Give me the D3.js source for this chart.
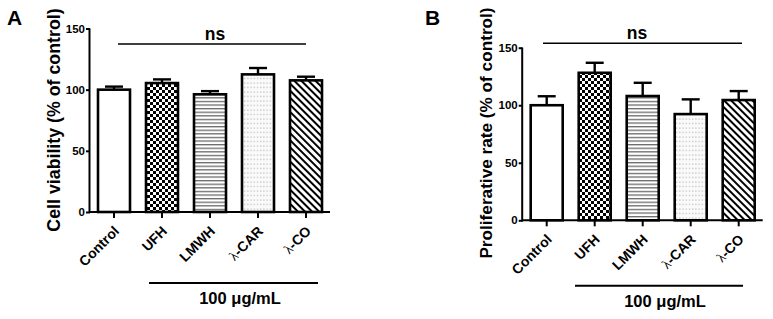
<!DOCTYPE html>
<html>
<head>
<meta charset="utf-8">
<script src="https://cdn.jsdelivr.net/npm/d3@7"></script>
<style>
  body { margin: 0; background: #fff; }
  svg { display: block; font-family: 'Liberation Sans', Arial, sans-serif; }
</style>
</head>
<body>
<svg id="chart" width="773" height="319"></svg>
<script>
const categories = ['Control', 'UFH', 'LMWH', 'λ-CAR', 'λ-CO']
const fills = ['white', 'url(#checker)', 'url(#hlines)', 'url(#dots)', 'url(#diag)']

// panel A: cell viability
const viability = [100, 105.4, 96.2, 112.5, 107.6]
const viabilityErr = [2.5, 3, 2.6, 5.2, 3]
// panel B: proliferative rate
const prolif = [100, 128.2, 108, 92.3, 104.5]
const prolifErr = [7.8, 8.7, 11.5, 12.8, 7.8]

const yTicks = [0, 50, 100, 150]

const svg = d3.select('#chart')
const defs = svg.append('defs')

// fill patterns
const checker = defs.append('pattern').attr('id', 'checker')
  .attr('patternUnits', 'userSpaceOnUse').attr('width', 6).attr('height', 6)
checker.append('rect').attr('width', 6).attr('height', 6).attr('fill', '#fff')
checker.append('rect').attr('width', 3).attr('height', 3).attr('fill', '#000')
checker.append('rect').attr('x', 3).attr('y', 3).attr('width', 3).attr('height', 3).attr('fill', '#000')

const hlines = defs.append('pattern').attr('id', 'hlines')
  .attr('patternUnits', 'userSpaceOnUse').attr('width', 8).attr('height', 3.6)
hlines.append('rect').attr('width', 8).attr('height', 3.6).attr('fill', '#fff')
hlines.append('rect').attr('y', 0).attr('width', 8).attr('height', 1.3).attr('fill', '#6a6a6a')

const dots = defs.append('pattern').attr('id', 'dots')
  .attr('patternUnits', 'userSpaceOnUse').attr('width', 3.2).attr('height', 4.5)
dots.append('rect').attr('width', 3.2).attr('height', 4.5).attr('fill', '#fafafa')
dots.append('rect').attr('x', 1).attr('y', 1.5).attr('width', 1).attr('height', 1).attr('fill', '#9a9a9a')

const diag = defs.append('pattern').attr('id', 'diag')
  .attr('patternUnits', 'userSpaceOnUse').attr('width', 5).attr('height', 10)
  .attr('patternTransform', 'rotate(-45)')
diag.append('rect').attr('width', 5).attr('height', 10).attr('fill', '#fff')
diag.append('rect').attr('x', 0).attr('width', 2).attr('height', 10).attr('fill', '#000')

function drawPanel({ letter, letterX, values, errors, x0, yTop, yBottom, yLabel, yLabelX, yLabelY, yLabelSize, nsX, nsY, nsTextX, lineX, lineY, doseX, doseY }) {
  const g = svg.append('g')
  const x = d3.scaleBand().domain(categories).range([x0, x0 + 240])
    .paddingInner(1 / 3).paddingOuter(1 / 6)
  const y = d3.scaleLinear().domain([0, 150]).range([yBottom, yTop])
  const capW = 18

  // bars
  g.selectAll('rect.bar')
    .data(values)
    .join('rect')
    .attr('class', 'bar')
    .attr('x', (d, i) => x(categories[i]))
    .attr('y', d => y(d))
    .attr('width', x.bandwidth())
    .attr('height', d => y(0) - y(d))
    .attr('fill', (d, i) => fills[i])
    .attr('stroke', '#000')
    .attr('stroke-width', 2.6)

  // error bars (upper only)
  const err = g.selectAll('g.err')
    .data(values)
    .join('g')
    .attr('class', 'err')
    .attr('stroke', '#000')
    .attr('stroke-width', 2.4)
  err.append('line')
    .attr('x1', (d, i) => x(categories[i]) + x.bandwidth() / 2)
    .attr('x2', (d, i) => x(categories[i]) + x.bandwidth() / 2)
    .attr('y1', d => y(d))
    .attr('y2', (d, i) => y(d + errors[i]))
  err.append('line')
    .attr('x1', (d, i) => x(categories[i]) + x.bandwidth() / 2 - capW / 2)
    .attr('x2', (d, i) => x(categories[i]) + x.bandwidth() / 2 + capW / 2)
    .attr('y1', (d, i) => y(d + errors[i]))
    .attr('y2', (d, i) => y(d + errors[i]))

  // y axis
  const yAxis = g.append('g')
    .attr('transform', `translate(${x0},0)`)
    .call(d3.axisLeft(y).tickValues(yTicks).tickSize(4).tickPadding(1))
  yAxis.select('.domain').attr('stroke-width', 2).attr('d', `M-0.5,${yBottom + 1}V${yTop}`)
  yAxis.selectAll('.tick line').attr('stroke-width', 2)
  yAxis.selectAll('.tick text')
    .attr('font-size', 11.5).attr('font-weight', 'bold').attr('fill', '#000')
    .attr('font-family', "'Liberation Sans', Arial, sans-serif")

  // x axis
  const xAxis = g.append('g')
    .attr('transform', `translate(0,${yBottom})`)
    .call(d3.axisBottom(x).tickSize(6).tickFormat(''))
  xAxis.select('.domain').attr('stroke-width', 2).attr('d', `M${x0 - 1},0H${x0 + 240}`)
  xAxis.selectAll('.tick line').attr('stroke-width', 2)

  // category labels, rotated
  const lab = g.selectAll('text.cat')
    .data(categories)
    .join('text')
    .attr('class', 'cat')
    .attr('text-anchor', 'end')
    .attr('font-size', 14)
    .attr('font-weight', 'bold')
    .attr('transform', d => `translate(${x(d) + x.bandwidth() / 2 + 6},${yBottom + 20}) rotate(-45)`)
  lab.each(function (d) {
    const t = d3.select(this)
    if (d.startsWith('λ')) {
      t.append('tspan').attr('font-family', "'Liberation Serif', 'DejaVu Serif', serif")
        .attr('font-weight', 'normal').attr('font-size', 13.5).text('λ')
      t.append('tspan').text(d.slice(1))
    } else {
      t.text(d)
    }
  })

  // panel letter
  svg.append('text').attr('x', letterX).attr('y', 25)
    .attr('font-size', 21).attr('font-weight', 'bold').text(letter)

  // y label
  svg.append('text')
    .attr('transform', `translate(${yLabelX},${yLabelY}) rotate(-90)`)
    .attr('text-anchor', 'middle')
    .attr('font-size', yLabelSize).attr('font-weight', 'bold')
    .text(yLabel)

  // ns bracket
  svg.append('line').attr('x1', nsX[0]).attr('x2', nsX[1]).attr('y1', nsY).attr('y2', nsY)
    .attr('stroke', '#000').attr('stroke-width', 1.6)
  svg.append('text').attr('x', nsTextX).attr('y', nsY - 4)
    .attr('text-anchor', 'middle').attr('font-size', 17.5).attr('font-weight', 'bold').text('ns')

  // dose line
  svg.append('line').attr('x1', lineX[0]).attr('x2', lineX[1]).attr('y1', lineY).attr('y2', lineY)
    .attr('stroke', '#000').attr('stroke-width', 2)
  svg.append('text').attr('x', doseX).attr('y', doseY)
    .attr('text-anchor', 'middle').attr('font-size', 16.5).attr('font-weight', 'bold').text('100 μg/mL')
}

drawPanel({
  letter: 'A', letterX: 7, values: viability, errors: viabilityErr,
  x0: 90, yTop: 28.5, yBottom: 212, yLabel: 'Cell viability (% of control)',
  yLabelX: 60, yLabelY: 120, yLabelSize: 17.8,
  nsX: [118, 306], nsY: 44, nsTextX: 215, lineX: [149, 318], lineY: 283, doseX: 240, doseY: 304,
})

drawPanel({
  letter: 'B', letterX: 425, values: prolif, errors: prolifErr,
  x0: 522.7, yTop: 47.7, yBottom: 220.3, yLabel: 'Proliferative rate (% of control)',
  yLabelX: 492, yLabelY: 133, yLabelSize: 17.2,
  nsX: [543, 742], nsY: 43.3, nsTextX: 637, lineX: [575, 743], lineY: 285.7, doseX: 665, doseY: 307,
})
</script>
</body>
</html>
